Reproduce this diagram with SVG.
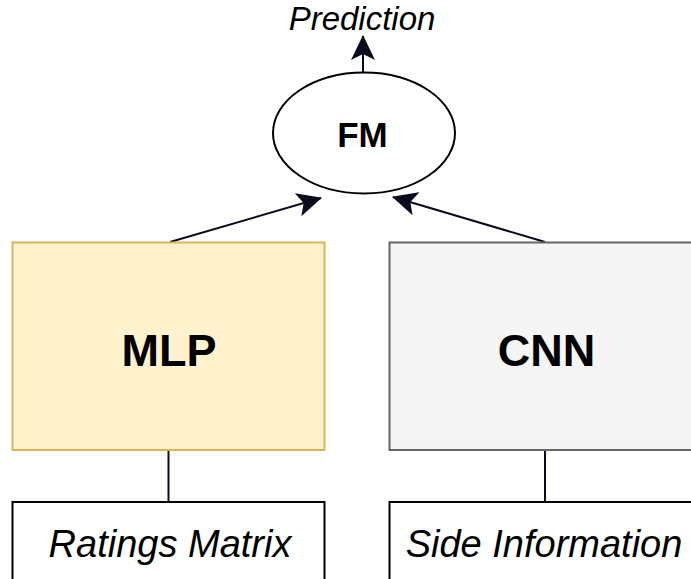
<svg xmlns="http://www.w3.org/2000/svg" width="691" height="579" viewBox="0 0 691 579">
  <style>
    .lbl { font-family: "Liberation Sans", Arial, Helvetica, sans-serif; fill: #000; text-anchor: middle; }
    .bold { font-weight: bold; }
    .ital { font-style: italic; }
    .edge { fill: none; stroke: #0b0b1e; stroke-width: 2; }
  </style>
  <defs>
    <marker id="arrow" markerUnits="userSpaceOnUse" viewBox="0 0 25 24" markerWidth="25" markerHeight="24" refX="24" refY="12" orient="auto">
      <path d="M25,12 L0,0 L6,12 L0,24 Z" fill="#0b0b1e"/>
    </marker>
  </defs>

  <rect width="691" height="579" fill="#ffffff"/>

  <!-- connectors -->
  <g id="connectors">
    <line class="edge" x1="363" y1="72" x2="363" y2="36" marker-end="url(#arrow)"/>
    <line class="edge" x1="170" y1="242" x2="321" y2="198" marker-end="url(#arrow)"/>
    <line class="edge" x1="545" y1="242" x2="393" y2="197" marker-end="url(#arrow)"/>
    <line class="edge" x1="168.5" y1="450" x2="168.5" y2="502"/>
    <line class="edge" x1="545" y1="450" x2="545" y2="502"/>
  </g>

  <g id="prediction">
    <text class="lbl ital" x="362" y="30" font-size="33">Prediction</text>
  </g>

  <g id="fm">
    <ellipse cx="364" cy="133" rx="91" ry="60.5" fill="#ffffff" stroke="#000" stroke-width="2"/>
    <text class="lbl bold" x="362.5" y="147" font-size="35">FM</text>
  </g>

  <g id="mlp">
    <rect x="12.5" y="242.5" width="312" height="207.5" fill="#fff2cc" stroke="#d6b656" stroke-width="2"/>
    <text class="lbl bold" x="169" y="366" font-size="45">MLP</text>
  </g>

  <g id="cnn">
    <rect x="389.5" y="242.5" width="312" height="207.5" fill="#f5f5f5" stroke="#666666" stroke-width="2"/>
    <text class="lbl bold" x="546.5" y="366" font-size="45">CNN</text>
  </g>

  <g id="ratings-matrix">
    <rect x="12.5" y="502" width="312" height="90" fill="#ffffff" stroke="#000" stroke-width="2"/>
    <text class="lbl ital" x="170" y="556.5" font-size="38">Ratings Matrix</text>
  </g>

  <g id="side-information">
    <rect x="389.5" y="502" width="312" height="90" fill="#ffffff" stroke="#000" stroke-width="2"/>
    <text class="lbl ital" x="544" y="556.5" font-size="38">Side Information</text>
  </g>
</svg>
